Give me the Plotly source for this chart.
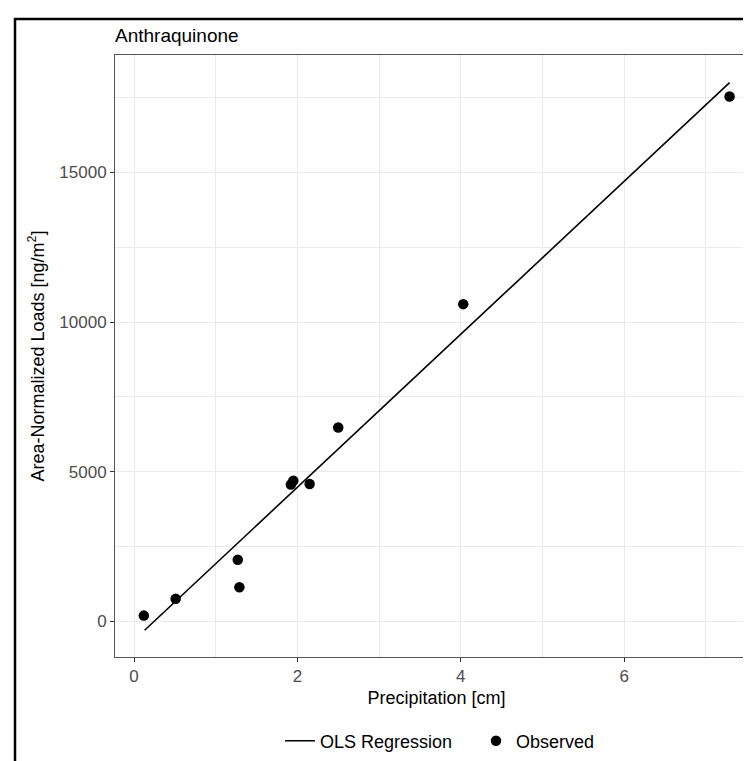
import plotly.graph_objects as go

# ---- data ----
precip_cm = [0.12, 0.51, 1.27, 1.29, 1.92, 1.95, 2.15, 2.50, 4.03, 7.29]
loads_ng_m2 = [190, 750, 2060, 1140, 4570, 4700, 4590, 6480, 10600, 17540]
ols_x = [0.13, 7.29]
ols_y = [-300, 18005]
x_ticks = [0, 2, 4, 6]
y_ticks = [0, 5000, 10000, 15000]

W, H = 751, 761
L, R, T, B = 107, 1, 47, 112
pw, ph = W - L - R, H - T - B

FONT = "Liberation Sans, Arial, Helvetica, sans-serif"

fig = go.Figure()
fig.add_trace(go.Scatter(
    x=ols_x, y=ols_y, mode="lines", name="OLS Regression",
    line=dict(color="black", width=1.6),
))
fig.add_trace(go.Scatter(
    x=precip_cm, y=loads_ng_m2, mode="markers", name="Observed",
    marker=dict(color="black", size=10.5, line=dict(width=0)),
))

grid = "#EBEBEB"
fig.update_xaxes(
    range=[-0.2326, 7.638], tickvals=x_ticks, ticktext=[str(v) for v in x_ticks],
    showgrid=True, gridcolor=grid, gridwidth=1.1,
    minor=dict(dtick=1, tick0=1, showgrid=True, gridcolor=grid, gridwidth=0.6, ticklen=0),
    zeroline=False, showline=True, linecolor="#555555", linewidth=1, mirror=True,
    ticks="outside", ticklen=4, tickwidth=1, tickcolor="#333333",
    tickfont=dict(family=FONT, size=17, color="#4D4D4D"),
    title=dict(text="Precipitation [cm]", font=dict(family=FONT, size=18, color="black"), standoff=5),
)
fig.update_yaxes(
    range=[-1193, 18927], tickvals=y_ticks, ticktext=[str(v) for v in y_ticks],
    showgrid=True, gridcolor=grid, gridwidth=1.1,
    minor=dict(dtick=2500, tick0=2500, showgrid=True, gridcolor=grid, gridwidth=0.6, ticklen=0),
    zeroline=False, showline=True, linecolor="#555555", linewidth=1, mirror=True,
    ticks="outside", ticklen=4, tickwidth=1, tickcolor="#333333",
    tickfont=dict(family=FONT, size=17, color="#4D4D4D"),
    title=dict(text="Area-Normalized Loads [ng/m<sup>2</sup>]",
               font=dict(family=FONT, size=18, color="black"), standoff=10),
)

# outer black frame (partially cropped in the reference)
fig.add_shape(type="rect", xref="paper", yref="paper",
              x0=(7 - L) / pw, x1=1.3, y0=-0.5, y1=(H - B - 11) / ph,
              line=dict(color="black", width=2.5), fillcolor="rgba(0,0,0,0)", layer="above")

fig.update_layout(
    width=W, height=H,
    margin=dict(l=L, r=R, t=T, b=B, autoexpand=False),
    paper_bgcolor="white", plot_bgcolor="white",
    font=dict(family=FONT, color="black"),
    title=dict(text="Anthraquinone", x=L / W, xanchor="left", xref="container",
               y=1 - 27.4 / H, yanchor="middle", yref="container",
               font=dict(family=FONT, size=19, color="black")),
    showlegend=True,
    legend=dict(orientation="h", x=(272 - L) / pw, xanchor="left",
                y=(H - B - 733) / ph, yanchor="middle",
                font=dict(family=FONT, size=18, color="black"),
                itemwidth=30, entrywidth=151, entrywidthmode="pixels",
                bgcolor="rgba(0,0,0,0)"),
)

fig.write_html("out.html")
